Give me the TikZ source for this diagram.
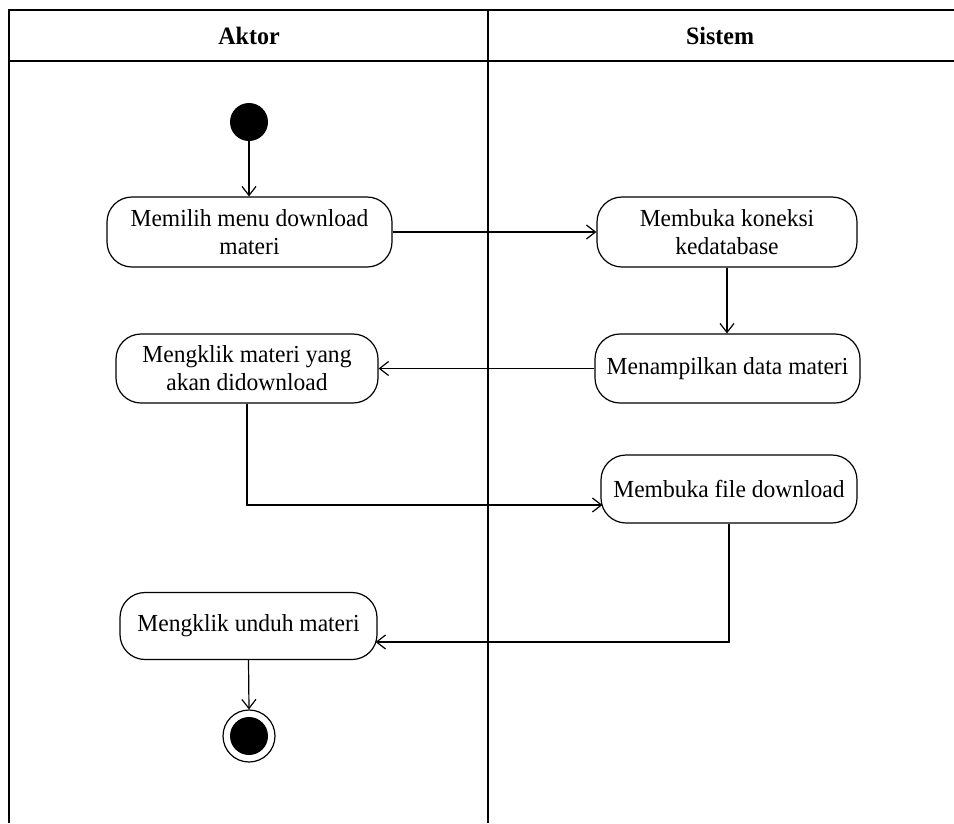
\documentclass[tikz,border=0pt]{standalone}
\usepackage{fontspec}
\setmainfont{Liberation Serif}
\newfontfamily\narrowserif[FakeStretch=0.96]{Liberation Serif}
\usetikzlibrary{arrows.meta,calc}

\begin{document}
\begin{tikzpicture}[x=1pt,y=-1pt,
  act/.style={draw, line width=1.2pt, rounded corners=25pt, align=center,
    font=\narrowserif\fontsize{24.5}{28}\selectfont, inner sep=0pt},
  flow/.style={-{Straight Barb[length=9pt,width=14pt]}, line width=1.2pt},
  lane/.style={line width=1.6pt},
  title/.style={font=\narrowserif\bfseries\fontsize{25}{28}\selectfont}]
\useasboundingbox (0,0) rectangle (954,823);

% swimlane frame
\draw[lane] (954,10) -- (9,10) -- (9,823);
\draw[lane] (9,61) -- (954,61);
\draw[lane] (488,10) -- (488,823);
\node[title] (aktor) at (249,36) {Aktor};
\node[title] (sistem) at (720,36) {Sistem};

% start and end markers
\node[circle, fill=black, minimum size=38pt, inner sep=0pt] (start) at (249,122) {};
\node[circle, draw, line width=1.2pt, minimum size=52pt, inner sep=0pt] (end) at (249,736) {};
\node[circle, fill=black, minimum size=38pt, inner sep=0pt] (endin) at (end.center) {};

% activities
\node[act, minimum width=285pt, minimum height=70pt] (n1) at (249.5,232) {Memilih menu download\\materi};
\node[act, minimum width=260pt, minimum height=70pt] (n2) at (727,232) {Membuka koneksi\\kedatabase};
\node[act, minimum width=265pt, minimum height=69pt] (n3) at (727.5,368.5) {Menampilkan data materi};
\node[act, minimum width=262pt, minimum height=69pt] (n4) at (247,368.5) {Mengklik materi yang\\akan didownload};
\node[act, minimum width=256pt, minimum height=68pt] (n5) at (729,489) {Membuka file download};
\node[act, minimum width=257pt, minimum height=67pt] (n6) at (248.5,626) {Mengklik unduh materi};

% entry points on the lower rounded sides
\coordinate (in5) at ($(n5.west)+(2,16)$);
\coordinate (in6) at ($(n6.east)+(-2,16)$);

% flows
\draw[flow] (start) -- (start |- n1.north);
\draw[flow] (n1.east) -- (n2.west);
\draw[flow] (n2.south) -- (n2.south |- n3.north);
\draw[flow] (n3.west) -- (n4.east);
\draw[flow] (n4.south) |- (in5);
\draw[flow] (n5.south) |- (in6);
\draw[flow] (n6.south) -- (end.north);
\end{tikzpicture}
\end{document}
